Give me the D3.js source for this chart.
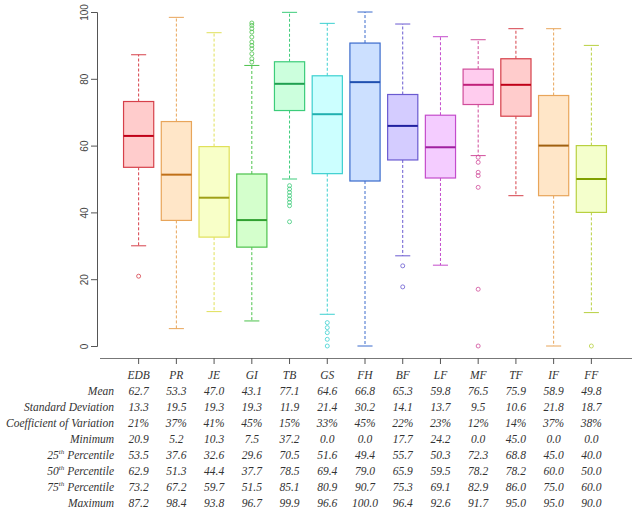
<!DOCTYPE html>
<html><head><meta charset="utf-8">
<script src="https://cdn.jsdelivr.net/npm/d3@7"></script>
<style>body{margin:0;background:#fff}</style>
</head><body><svg id="c" width="640" height="515"></svg>
<script>
var categories = ['EDB','PR','JE','GI','TB','GS','FH','BF','LF','MF','TF','IF','FF'];
var q1 = [53.5,37.6,32.6,29.6,70.5,51.6,49.4,55.7,50.3,72.3,68.8,45.0,40.0];
var med = [62.9,51.3,44.4,37.7,78.5,69.4,79.0,65.9,59.5,78.2,78.2,60.0,50.0];
var q3 = [73.2,67.2,59.7,51.5,85.1,80.9,90.7,75.3,69.1,82.9,86.0,75.0,60.0];
var whiskLo = [30,5.2,10.3,7.5,50,9.5,0,27,24.2,57,45,0,10];
var whiskHi = [87.2,98.4,93.8,84,99.9,96.6,100,96.4,92.6,91.7,95,95,90];
var outliers = [[20.9],[],[],[85,86,87.5,89,90,91,92.5,94,95,96,96.7],[37.2,42,43,44,45,46,47,48],[0,2,4,5.5,7],[],[24,17.7],[],[0,17,47.5,51,52,55,56.5],[],[],[0]];
var lineCol = ['#d6404a','#e8a55a','#e0e05a','#4cc24c','#3ccc7a','#3cd0d0','#3a6acc','#6a5ad0','#c44ccc','#d04c9a','#d6404a','#e8a55a','#b8d040'];
var fillCol = ['#ffcccc','#ffe6c8','#f8ffc8','#d4ffcc','#ccffdd','#ccffff','#cce0ff','#d4ccff','#f4ccff','#ffccee','#ffcccc','#ffe6c8','#f4ffcc'];
var medCol = ['#c00018','#c07018','#a0a018','#30a030','#20a050','#20b0b0','#2050b0','#2020a0','#a020a0','#c0207a','#c00018','#a06010','#80a000'];
var rowLabels = ['Mean','Standard Deviation','Coefficient of Variation','Minimum','25|th| Percentile','50|th| Percentile','75|th| Percentile','Maximum'];
var tableRows = [
 ['62.7','53.3','47.0','43.1','77.1','64.6','66.8','65.3','59.8','76.5','75.9','58.9','49.8'],
 ['13.3','19.5','19.3','19.3','11.9','21.4','30.2','14.1','13.7','9.5','10.6','21.8','18.7'],
 ['21%','37%','41%','45%','15%','33%','45%','22%','23%','12%','14%','37%','38%'],
 ['20.9','5.2','10.3','7.5','37.2','0.0','0.0','17.7','24.2','0.0','45.0','0.0','0.0'],
 ['53.5','37.6','32.6','29.6','70.5','51.6','49.4','55.7','50.3','72.3','68.8','45.0','40.0'],
 ['62.9','51.3','44.4','37.7','78.5','69.4','79.0','65.9','59.5','78.2','78.2','60.0','50.0'],
 ['73.2','67.2','59.7','51.5','85.1','80.9','90.7','75.3','69.1','82.9','86.0','75.0','60.0'],
 ['87.2','98.4','93.8','96.7','99.9','96.6','100.0','96.4','92.6','91.7','95.0','95.0','90.0']];
var yTicks = [0,20,40,60,80,100];

var svg = d3.select('#c');
var x = d3.scaleBand().domain(categories).range([116, 614]).padding(0.2);
var y = d3.scaleLinear().domain([0,100]).range([346, 12]);
var font = '"Liberation Serif", serif';

// y axis
var ya = svg.append('g').attr('transform','translate(97,0)')
  .call(d3.axisLeft(y).tickValues(yTicks).tickSize(6));
ya.select('.domain').attr('stroke','#555');
ya.selectAll('line').attr('stroke','#555');
ya.selectAll('text').attr('font-family','"Liberation Sans", sans-serif').attr('font-size',10).attr('fill','#444')
  .attr('x',0).attr('y',0).attr('dy','0.32em').attr('text-anchor','middle')
  .attr('transform','translate(-12,0) rotate(-90)');
// bottom axis
var xa = svg.append('g').attr('transform','translate(0,358)')
  .call(d3.axisBottom(x).tickSize(6).tickFormat(''));
xa.select('.domain').attr('d','M100,0.5H632').attr('stroke','#777');
xa.selectAll('line').attr('stroke','#555');

var g = svg.selectAll('g.box').data(categories).enter().append('g');
g.each(function(c, i){
  var s = d3.select(this), cx = x(c) + x.bandwidth()/2, w = x.bandwidth();
  s.append('line').attr('x1',cx).attr('x2',cx).attr('y1',y(q3[i])).attr('y2',y(whiskHi[i]))
    .attr('stroke',lineCol[i]).attr('stroke-dasharray','3,2');
  s.append('line').attr('x1',cx).attr('x2',cx).attr('y1',y(q1[i])).attr('y2',y(whiskLo[i]))
    .attr('stroke',lineCol[i]).attr('stroke-dasharray','3,2');
  [whiskHi[i], whiskLo[i]].forEach(function(v){
    s.append('line').attr('x1',cx-w/4).attr('x2',cx+w/4).attr('y1',y(v)).attr('y2',y(v)).attr('stroke',lineCol[i]);
  });
  s.append('rect').attr('x',x(c)).attr('width',w).attr('y',y(q3[i])).attr('height',y(q1[i])-y(q3[i]))
    .attr('fill',fillCol[i]).attr('stroke',lineCol[i]).attr('stroke-width',1.2);
  s.append('line').attr('x1',x(c)).attr('x2',x(c)+w).attr('y1',y(med[i])).attr('y2',y(med[i]))
    .attr('stroke',medCol[i]).attr('stroke-width',2);
  s.selectAll('circle').data(outliers[i]).enter().append('circle')
    .attr('cx',cx).attr('cy',function(d){return y(d);}).attr('r',2)
    .attr('fill','none').attr('stroke',lineCol[i]).attr('stroke-width',0.8);
});

// table
var tf = svg.append('g').attr('font-family',font).attr('font-style','italic').attr('font-size',11.5).attr('fill','#333');
tf.selectAll('text.cat').data(categories).enter().append('text')
  .attr('x',function(d){return x(d)+x.bandwidth()/2;}).attr('y',379).attr('text-anchor','middle').text(function(d){return d;});
var rowY = d3.scaleLinear().domain([0,7]).range([395, 507]);
rowLabels.forEach(function(lab, r){
  var t = tf.append('text').attr('x',114).attr('y',rowY(r)).attr('text-anchor','end');
  var parts = lab.split('|');
  if (parts.length > 1) {
    t.append('tspan').text(parts[0]);
    t.append('tspan').attr('font-size',7).attr('dy',-5).text(parts[1]);
    t.append('tspan').attr('dy',5).text(parts[2]);
  } else t.text(lab);
  tf.selectAll(null).data(tableRows[r]).enter().append('text')
    .attr('x',function(d,i){return x(categories[i])+x.bandwidth()/2;}).attr('y',rowY(r))
    .attr('text-anchor','middle').text(function(d){return d;});
});
</script></body></html>
